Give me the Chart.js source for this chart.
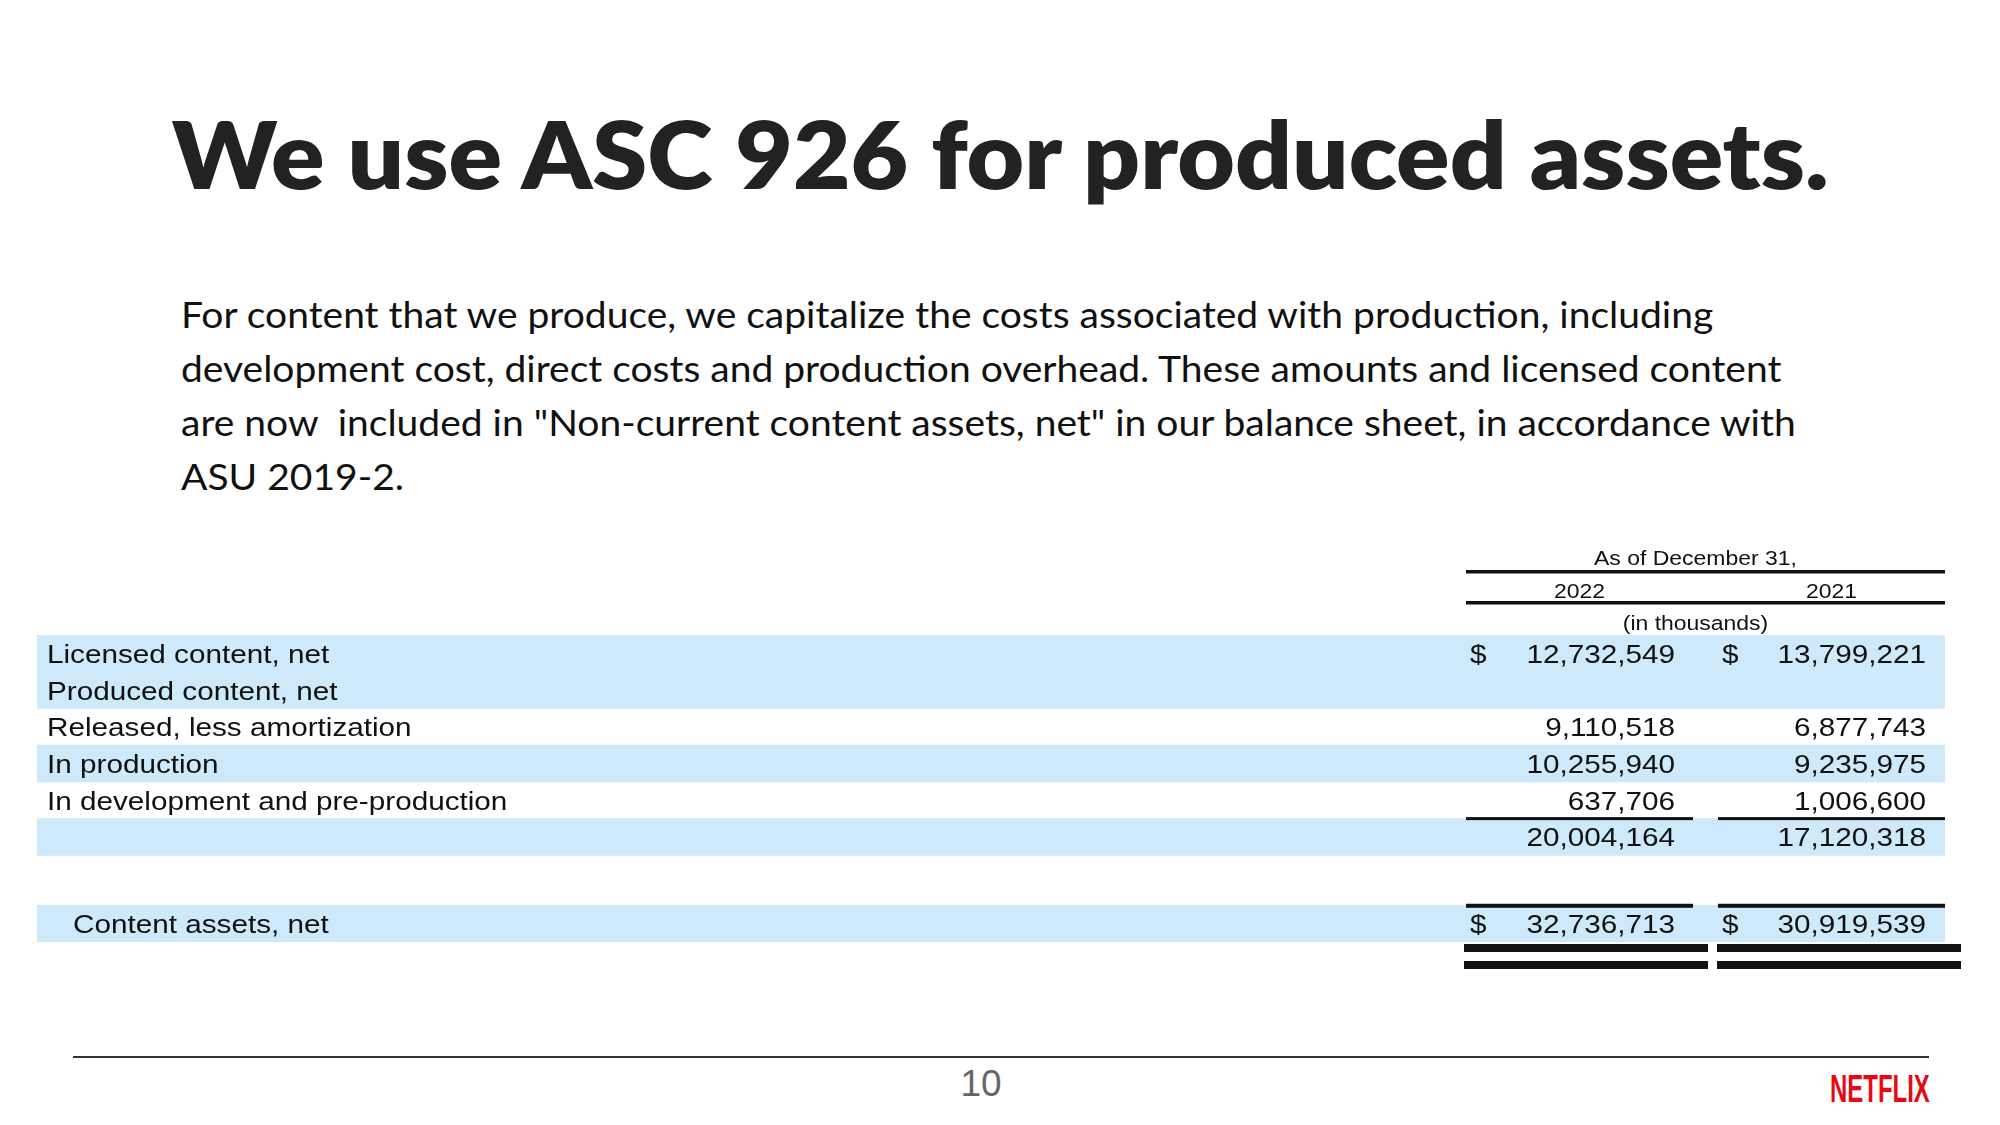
<!DOCTYPE html>
<html>
<head>
<meta charset="utf-8">
<script src="https://cdn.jsdelivr.net/npm/chart.js@4.4.0/dist/chart.umd.min.js"></script>
<style>
html, body { margin: 0; padding: 0; background: #fff; }
body { width: 2000px; height: 1125px; position: relative; overflow: hidden; }
#title { position: absolute; left: 0; top: 108px; width: 2000px; text-align: center;
  font: 800 92px Lato, sans-serif; line-height: 92px; color: #222; white-space: nowrap;
  transform: scaleX(1.08); transform-origin: 997px 0; }
#para { position: absolute; left: 181px; top: 287px; font: 400 36px Lato, sans-serif;
  line-height: 54px; color: #111; transform: scaleX(1.083); transform-origin: 0 0; }
#para div { white-space: pre; }
#table { position: absolute; left: 0; top: 540px; }
#rule { position: absolute; left: 73px; top: 1056px; width: 1856px; height: 2px; background: #333; }
#page { position: absolute; left: 931px; top: 1065px; width: 100px; text-align: center;
  font: 400 37px "Liberation Sans", Arial, sans-serif; line-height: 37px; color: #666; }
#logo { position: absolute; left: 1830px; top: 1070px; font: 700 38px "Liberation Sans", Arial, sans-serif;
  line-height: 38px; color: #e50914; transform: scaleX(0.63); transform-origin: 0 0; }
</style>
</head>
<body>
<div id="title">We use ASC 926 for produced assets.</div>
<div id="para">
<div>For content that we produce, we capitalize the costs associated with production, including</div>
<div>development cost, direct costs and production overhead. These amounts and licensed content</div>
<div>are now  included in "Non-current content assets, net" in our balance sheet, in accordance with</div>
<div>ASU 2019-2.</div>
</div>
<canvas id="table" width="2000" height="450"></canvas>
<div id="rule"></div>
<div id="page">10</div>
<div id="logo">NETFLIX</div>

<script>
"use strict";

// table data (in thousands)
const rowLabels = ["Licensed content, net", "Produced content, net", "Released, less amortization",
    "In production", "In development and pre-production", "", "Content assets, net"];
const values2022 = [12732549, null, 9110518, 10255940, 637706, 20004164, 32736713];
const values2021 = [13799221, null, 6877743, 9235975, 1006600, 17120318, 30919539];
const years = ["2022", "2021"];
const headerCaption = "As of December 31,";
const unitCaption = "(in thousands)";

// layout / style
const SHADED_ROWS = [0, 1, 3, 5, 6];
const DOLLAR_ROWS = [0, 6];
const SUBTOTAL_ROW = 5;
const TOTAL_ROW = 6;
const TOTAL_GAP = 1.36;
const BAND = "#cde9fa";
const INK = "#111";
const SX = 1.12;
const COLS = [
    { dollar: 1470, right: 1675, ruleL: 1466, ruleR: 1693, dblL: 1464, dblR: 1708 },
    { dollar: 1722, right: 1926, ruleL: 1718, ruleR: 1945, dblL: 1717, dblR: 1961 }
];

const rowPos = rowLabels.map((_, i) => i === TOTAL_ROW ? i + TOTAL_GAP : i);
const bands = SHADED_ROWS.map(i => ({ x: [0, 1], y: rowPos[i] }));

function put(ctx, text, x, y, align) {
    ctx.save();
    ctx.translate(x, y);
    ctx.scale(SX, 1);
    ctx.textAlign = align;
    ctx.fillText(text, 0, 0);
    ctx.restore();
}

const tableText = {
    id: "tableText",
    afterDatasetsDraw(chart) {
        const ctx = chart.ctx;
        const yScale = chart.scales.y;
        const unit = Math.abs(yScale.getPixelForValue(1) - yScale.getPixelForValue(0));
        const top0 = yScale.getPixelForValue(rowPos[0]) - unit / 2;
        ctx.save();
        ctx.fillStyle = INK;
        ctx.textBaseline = "alphabetic";

        // header
        ctx.font = "20.5px 'Liberation Sans', Arial, sans-serif";
        put(ctx, headerCaption, (COLS[0].ruleL + COLS[1].ruleR) / 2 - 10, top0 - 70, "center");
        years.forEach((yr, c) => put(ctx, yr, (COLS[c].ruleL + COLS[c].ruleR) / 2, top0 - 37, "center"));
        put(ctx, unitCaption, (COLS[0].ruleL + COLS[1].ruleR) / 2 - 10, top0 - 5, "center");
        ctx.fillRect(COLS[0].ruleL, top0 - 65, COLS[1].ruleR - COLS[0].ruleL, 3.5);
        ctx.fillRect(COLS[0].ruleL, top0 - 34, COLS[1].ruleR - COLS[0].ruleL, 3.5);

        // rows
        ctx.font = "26.5px 'Liberation Sans', Arial, sans-serif";
        rowLabels.forEach((label, i) => {
            const cy = yScale.getPixelForValue(rowPos[i]);
            const base = cy + 9.5;
            put(ctx, label, i === TOTAL_ROW ? 73 : 47, base, "left");
            [values2022[i], values2021[i]].forEach((v, c) => {
                if (v === null) return;
                if (DOLLAR_ROWS.includes(i)) put(ctx, "$", COLS[c].dollar, base, "left");
                put(ctx, v.toLocaleString("en-US"), COLS[c].right, base, "right");
            });
        });

        // rules
        const subTop = yScale.getPixelForValue(rowPos[SUBTOTAL_ROW]) - unit / 2;
        const totTop = yScale.getPixelForValue(rowPos[TOTAL_ROW]) - unit / 2;
        const totBot = totTop + unit;
        COLS.forEach(col => {
            ctx.fillRect(col.ruleL, subTop - 1.5, col.ruleR - col.ruleL, 3);
            ctx.fillRect(col.ruleL, totTop - 1.5, col.ruleR - col.ruleL, 4);
            ctx.fillRect(col.dblL, totBot + 2, col.dblR - col.dblL, 8);
            ctx.fillRect(col.dblL, totBot + 19, col.dblR - col.dblL, 8);
        });
        ctx.restore();
    }
};

const tableArea = document.getElementById("table");
const tableChart = new Chart(tableArea, {
    type: "bar",
    data: {
        datasets: [{
            data: bands,
            backgroundColor: BAND,
            borderWidth: 0,
            categoryPercentage: 1,
            barPercentage: 1
        }]
    },
    options: {
        indexAxis: "y",
        responsive: false,
        animation: false,
        devicePixelRatio: 1,
        layout: { padding: { top: 95, bottom: 48, left: 37, right: 55 } },
        plugins: { legend: { display: false }, tooltip: { enabled: false } },
        scales: {
            x: { type: "linear", min: 0, max: 1, display: false },
            y: { type: "linear", reverse: true, min: -0.5, max: 7.86, display: false, offset: false,
                 grid: { offset: false }, ticks: { stepSize: 1, includeBounds: false } }
        }
    },
    plugins: [tableText]
});
</script>
</body>
</html>
